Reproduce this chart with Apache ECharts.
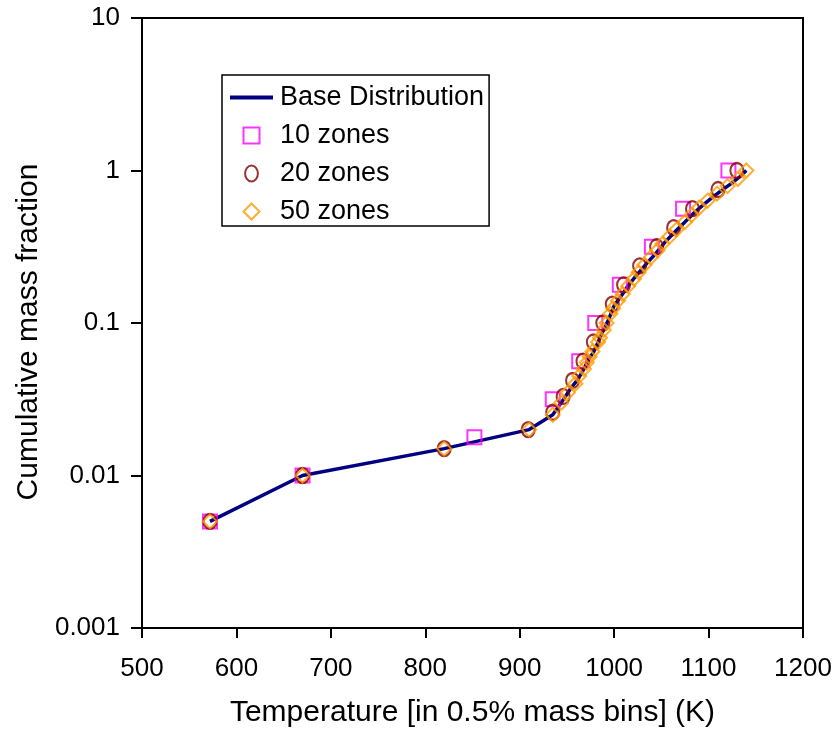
<!DOCTYPE html>
<html>
<head>
<meta charset="utf-8">
<script src="https://cdn.jsdelivr.net/npm/echarts@6/dist/echarts.min.js"></script>
<style>
  html, body { margin: 0; padding: 0; background: #ffffff; }
  #chart { width: 839px; height: 734px; }
</style>
</head>
<body>
<div id="chart"></div>
<script>
// Base distribution (temperature K, cumulative mass fraction)
const baseT = [572, 670, 820, 910, 935, 947, 955, 962, 968, 973, 978, 983, 988, 994, 1000, 1008, 1016, 1025, 1035, 1045, 1055, 1065, 1075, 1085, 1095, 1105, 1115, 1125, 1133, 1140];
const baseF = [0.005, 0.01, 0.015, 0.02, 0.025, 0.032, 0.038, 0.043, 0.05, 0.058, 0.064, 0.075, 0.088, 0.105, 0.13, 0.152, 0.18, 0.21, 0.248, 0.29, 0.345, 0.40, 0.46, 0.53, 0.60, 0.673, 0.75, 0.83, 0.91, 1.0];

// 10 zones
const z10T = [572, 670, 852, 935, 963, 980, 1006, 1040, 1073, 1121];
const z10F = [0.005, 0.01, 0.0178, 0.0316, 0.0562, 0.1, 0.178, 0.316, 0.562, 1.0];

// 20 zones
const z20T = [572, 670, 820, 909, 935, 946, 956, 967, 978, 988, 998, 1010, 1027, 1045, 1063, 1083, 1110, 1130];
const z20F = [0.005, 0.01, 0.015, 0.02, 0.026, 0.033, 0.042, 0.0562, 0.075, 0.1, 0.133, 0.178, 0.237, 0.316, 0.422, 0.562, 0.75, 1.0];

// 50 zones
const z50T = [572, 670, 820, 910, 935, 944, 951, 959, 963, 968, 971, 974, 977, 983, 985, 989, 992, 996, 999, 1004, 1009, 1015, 1021, 1026, 1032, 1039, 1046, 1051, 1059, 1066, 1075, 1082, 1090, 1099, 1109, 1120, 1131, 1140];
const z50F = [0.005, 0.01, 0.015, 0.02, 0.025, 0.03, 0.035, 0.04, 0.045, 0.05, 0.055, 0.06, 0.065, 0.075, 0.08, 0.09, 0.1, 0.115, 0.125, 0.14, 0.155, 0.175, 0.195, 0.215, 0.24, 0.27, 0.3, 0.33, 0.37, 0.41, 0.46, 0.51, 0.57, 0.635, 0.705, 0.79, 0.88, 1.0];

const xTicks = [500, 600, 700, 800, 900, 1000, 1100, 1200];
const yTickLabels = {0.001: '0.001', 0.01: '0.01', 0.1: '0.1', 1: '1', 10: '10'};

const pairs = (xs, ys) => xs.map((x, i) => [x, ys[i]]);
const FONT = 'Liberation Sans, Arial, sans-serif';

const chart = echarts.init(document.getElementById('chart'), null, {renderer: 'canvas'});
chart.setOption({
  animation: false,
  backgroundColor: '#ffffff',
  grid: {
    left: 142, right: 36, top: 18, bottom: 106,
    show: true, borderColor: '#000', borderWidth: 2, backgroundColor: 'transparent'
  },
  legend: {
    orient: 'vertical',
    left: 222, top: 75,
    padding: [9, 5, 1, 8],
    borderColor: '#000', borderWidth: 1.5,
    backgroundColor: '#fff',
    itemWidth: 43, itemHeight: 16, itemGap: 11,
    symbolKeepAspect: true,
    textStyle: {fontFamily: FONT, fontSize: 27, color: '#000', padding: [0, 0, 0, 2]},
    data: [
      {name: 'Base Distribution', icon: 'path://M0,0L40,0L40,3.5L0,3.5Z'},
      {name: '10 zones', icon: 'path://M0,0L14,0L14,14L0,14Z'},
      {name: '20 zones', icon: 'path://M6,0A6,7.5,0,1,1,6,15A6,7.5,0,1,1,6,0Z'},
      {name: '50 zones', icon: 'path://M7,1L13,7L7,13L1,7Z'}
    ]
  },
  xAxis: {
    type: 'value', min: xTicks[0], max: xTicks[xTicks.length - 1], interval: 100,
    name: 'Temperature [in 0.5% mass bins] (K)',
    nameLocation: 'middle', nameGap: 70,
    nameTextStyle: {fontFamily: FONT, fontSize: 30, color: '#000'},
    axisLine: {lineStyle: {color: '#000', width: 2}},
    axisTick: {show: true, inside: false, length: 10, lineStyle: {color: '#000', width: 2}},
    axisLabel: {fontFamily: FONT, fontSize: 26, color: '#000', margin: 28, formatter: v => String(v)},
    splitLine: {show: false}
  },
  yAxis: {
    type: 'log', logBase: 10, min: 0.001, max: 10,
    name: 'Cumulative mass fraction',
    nameLocation: 'middle', nameGap: 98, nameRotate: 90,
    nameTextStyle: {fontFamily: FONT, fontSize: 30, color: '#000', padding: [0, 18, 0, 0]},
    axisLine: {lineStyle: {color: '#000', width: 2}},
    axisTick: {show: true, inside: false, length: 11, lineStyle: {color: '#000', width: 2}},
    axisLabel: {
      fontFamily: FONT, fontSize: 26, color: '#000', margin: 22,
      formatter: v => yTickLabels[v] !== undefined ? yTickLabels[v] : String(v)
    },
    splitLine: {show: false},
    minorTick: {show: false}
  },
  series: [
    {
      name: 'Base Distribution', type: 'line', data: pairs(baseT, baseF),
      symbol: 'none', showSymbol: false,
      lineStyle: {color: '#000080', width: 3.5},
      itemStyle: {color: '#000080'},
      z: 1
    },
    {
      name: '10 zones', type: 'scatter', data: pairs(z10T, z10F),
      symbol: 'rect', symbolSize: 14,
      itemStyle: {color: 'rgba(0,0,0,0)', borderColor: '#FF00FF', borderWidth: 2},
      z: 2
    },
    {
      name: '20 zones', type: 'scatter', data: pairs(z20T, z20F),
      symbol: 'circle', symbolSize: [13, 15],
      itemStyle: {color: 'rgba(0,0,0,0)', borderColor: '#800000', borderWidth: 2.2},
      z: 3
    },
    {
      name: '50 zones', type: 'scatter', data: pairs(z50T, z50F),
      symbol: 'diamond', symbolSize: 14,
      itemStyle: {color: 'rgba(0,0,0,0)', borderColor: '#FF9900', borderWidth: 2},
      z: 4
    }
  ]
});
</script>
</body>
</html>
